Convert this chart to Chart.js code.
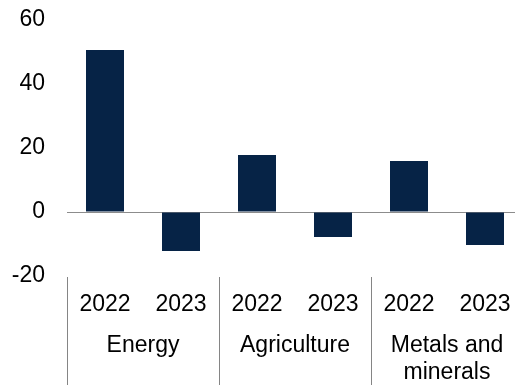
<!DOCTYPE html>
<html>
<head>
<meta charset="utf-8">
<script src="https://cdn.jsdelivr.net/npm/chart.js@4"></script>
<style>
  html, body { margin: 0; padding: 0; background: #fff; overflow: hidden; }
  /* plot runs a little past the right edge in the original */
  #wrap { width: 523px; height: 385px; }
</style>
</head>
<body>
<div id="wrap"><canvas id="myChart"></canvas></div>
<script>
// data
const years = ['2022', '2023', '2022', '2023', '2022', '2023'];
const groups = [['Energy'], ['Agriculture'], ['Metals and', 'minerals']];
const values = [50.6, -12.2, 17.8, -7.8, 15.9, -10.3];
const yTicks = [-20, 0, 20, 40, 60];

const font = "'Liberation Sans', Arial, sans-serif";
const fontSize = 23;

// group labels and separator lines under the year labels
const groupLabels = {
  id: 'groupLabels',
  afterDraw(chart) {
    const c = chart.ctx, x = chart.scales.x, area = chart.chartArea;
    const slot = x.getPixelForValue(1) - x.getPixelForValue(0);
    c.save();
    c.strokeStyle = '#858585';
    c.lineWidth = 1;
    for (let g = 0; g < groups.length; g++) {
      const left = Math.round(x.getPixelForValue(g * 2) - slot / 2) + 0.5;
      c.beginPath(); c.moveTo(left, area.bottom + 1); c.lineTo(left, chart.height); c.stroke();
      const mid = (x.getPixelForValue(g * 2) + x.getPixelForValue(g * 2 + 1)) / 2;
      c.fillStyle = '#000';
      c.font = fontSize + 'px ' + font;
      c.textAlign = 'center';
      c.textBaseline = 'middle';
      groups[g].forEach((line, i) => c.fillText(line, mid, 346 + i * 27));
    }
    c.restore();
  }
};

const ctx = document.getElementById('myChart').getContext('2d');
const myChart = new Chart(ctx, {
  type: 'bar',
  data: {
    labels: years,
    datasets: [{
      data: values,
      backgroundColor: '#062346',
      borderWidth: 0,
      categoryPercentage: 1,
      barPercentage: 0.5
    }]
  },
  options: {
    responsive: true,
    maintainAspectRatio: false,
    animation: false,
    layout: { padding: { top: 20, right: 0, bottom: 0, left: 0 } },
    plugins: { legend: { display: false }, tooltip: { enabled: false } },
    scales: {
      x: {
        grid: { display: false, drawTicks: false },
        border: { display: false },
        afterFit(axis) { axis.height = 109; axis.paddingLeft = 0; axis.paddingRight = 0; },
        ticks: { color: '#000', font: { family: font, size: fontSize }, padding: 15, maxRotation: 0 }
      },
      y: {
        min: -20,
        max: 60,
        afterBuildTicks(axis) { axis.ticks = yTicks.map(v => ({ value: v })); },
        afterFit(axis) { axis.width = 67; axis.paddingTop = 0; axis.paddingBottom = 0; },
        grid: {
          color: c => c.tick && c.tick.value === 0 ? '#8c8c8c' : 'rgba(0,0,0,0)',
          drawTicks: false
        },
        border: { display: false },
        ticks: { color: '#000', font: { family: font, size: fontSize }, padding: 22 }
      }
    }
  },
  plugins: [groupLabels]
});
</script>
</body>
</html>
